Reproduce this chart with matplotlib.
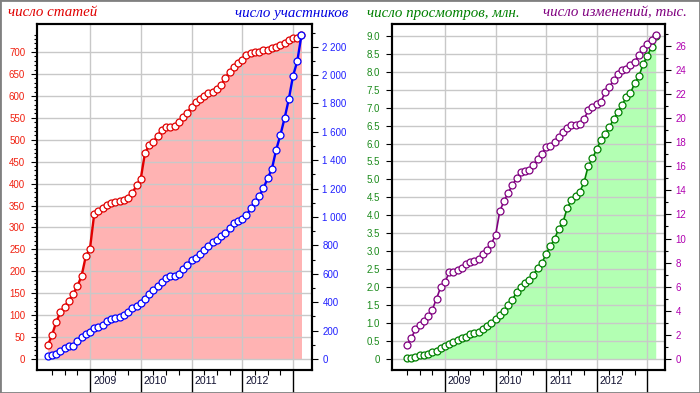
import numpy as np
import pandas as pd
import matplotlib
matplotlib.use("Agg")
import matplotlib.pyplot as plt
import matplotlib.transforms as mtransforms
from matplotlib.patches import Rectangle

# monthly data, left panel starts March 2008, right panel April 2008
articles = [31, 54, 84, 107, 119, 133, 148, 166, 189, 234,
            252, 331, 338, 345, 351, 355, 357, 360, 363, 368,
            378, 396, 411, 470, 487, 495, 509, 523, 530, 530,
            532, 540, 553, 561, 575, 585, 593, 600, 606, 610,
            616, 624, 641, 654, 667, 674, 683, 694, 698, 700,
            700, 704, 704, 709, 712, 717, 721, 728, 731, 733,
            738]
members = [22, 30, 37, 58, 80, 89, 94, 129, 155, 176,
           192, 216, 225, 240, 265, 280, 291, 298, 312, 331,
           357, 373, 394, 425, 456, 486, 514, 540, 571, 583,
           588, 598, 634, 664, 697, 711, 740, 766, 796, 822,
           836, 869, 890, 920, 956, 972, 984, 1012, 1062, 1104,
           1148, 1202, 1273, 1338, 1472, 1576, 1696, 1829, 1994, 2097,
           2282]
views = [0.02, 0.02, 0.05, 0.10, 0.11, 0.13, 0.19, 0.23, 0.29, 0.35,
         0.42, 0.47, 0.53, 0.57, 0.62, 0.68, 0.71, 0.75, 0.84, 0.91,
         1.00, 1.12, 1.23, 1.32, 1.50, 1.65, 1.86, 2.01, 2.12, 2.20,
         2.35, 2.53, 2.67, 2.93, 3.14, 3.34, 3.63, 3.81, 4.20, 4.42,
         4.54, 4.66, 4.92, 5.38, 5.59, 5.84, 6.10, 6.26, 6.45, 6.68,
         6.87, 7.07, 7.29, 7.40, 7.68, 7.87, 8.21, 8.44, 8.69, 9.00]
edits = [1.14, 1.72, 2.47, 2.85, 3.13, 3.54, 4.10, 5.01, 5.98, 6.37,
         7.20, 7.25, 7.36, 7.58, 7.89, 8.03, 8.11, 8.33, 8.72, 9.03,
         9.58, 10.27, 12.26, 13.10, 13.80, 14.43, 15.01, 15.53, 15.59, 15.70,
         16.06, 16.61, 17.03, 17.63, 17.69, 18.05, 18.46, 18.80, 19.13, 19.38,
         19.44, 19.50, 19.91, 20.63, 20.88, 21.18, 21.35, 22.15, 22.57, 23.12,
         23.62, 24.00, 24.06, 24.42, 24.67, 25.22, 25.72, 26.16, 26.50, 26.91]
years = [2009, 2010, 2011, 2012]

months_left = pd.date_range("2008-03-01", periods=len(articles), freq="MS")
months_right = pd.date_range("2008-04-01", periods=len(views), freq="MS")


def frac_year(dates):
    return np.array(dates.year + (dates.month - 1) / 12.0)


x_left = frac_year(months_left)
x_right = frac_year(months_right)

plt.rcParams['font.family'] = ['Liberation Sans', 'DejaVu Sans']

W, H = 700, 393
fig = plt.figure(figsize=(W / 100, H / 100), dpi=100)
fig.patch.set_facecolor("white")

grid_c = "#c8c8c8"


def setup_time_axis(ax, xlim):
    ax.set_xlim(*xlim)
    quarters = [y + q / 4 for y in range(2008, 2013) for q in (1, 2, 3)]
    ax.set_xticks(quarters)
    ax.set_xticklabels([])
    ax.tick_params(axis='x', direction='out', length=3.5, width=0.8)
    trans = mtransforms.blended_transform_factory(ax.transData, ax.transAxes)
    for yr in years + [2013]:
        ax.axvline(yr, color=grid_c, lw=1, zorder=1)
        ax.plot([yr, yr], [0, -0.065], transform=trans, color="black",
                lw=1, clip_on=False)
    for yr in years:
        ax.text(yr + 0.06, -0.032, str(yr), transform=trans, ha="left",
                va="center", fontsize=7.6, color="#101030")
    for s in ax.spines.values():
        s.set_linewidth(1.5)


# ---------- left panel ----------
ax1 = fig.add_axes([37 / W, 23 / H, 275 / W, 346 / H])
setup_time_axis(ax1, (2007.956, 2013.374))
ax1.set_ylim(-25, 764)
ax1.set_yticks(np.arange(0, 701, 50))
ax1.set_yticks(np.arange(0, 741, 10), minor=True)
for v in np.arange(0, 701, 50):
    ax1.axhline(v, color=grid_c, lw=1, zorder=1)
ax1.tick_params(axis='y', which='major', length=4.5, width=0.8,
                labelsize=7, labelcolor="#f02010", pad=4)
ax1.tick_params(axis='y', which='minor', length=2.2, width=0.8)
ax1.fill_between(x_left, articles, 0, color="#ffb3b3", lw=0, zorder=0.5)
ax1.plot(x_left, articles, color="#e00000", lw=1.7, marker="o", ms=5,
         mfc="white", mec="#e00000", mew=0.9, zorder=3)

ax2 = ax1.twinx()
ax2.set_ylim(-77.5, 2360)
ax2.set_yticks(np.arange(0, 2201, 200))
ax2.set_yticklabels([f"{v:,}".replace(",", " ") for v in range(0, 2201, 200)])
ax2.set_yticks(np.arange(0, 2301, 100), minor=True)
ax2.tick_params(axis='y', which='major', length=4.5, width=0.8,
                labelsize=7, labelcolor="#2020ff", pad=3)
ax2.tick_params(axis='y', which='minor', length=2.2, width=0.8)
ax2.plot(x_left, members, color="#0000ff", lw=1.7, marker="o", ms=5,
         mfc="white", mec="#0000ff", mew=0.9, zorder=3)
for s in ax2.spines.values():
    s.set_linewidth(1.5)

# ---------- right panel ----------
ax3 = fig.add_axes([391.7 / W, 23 / H, 273.3 / W, 346 / H])
setup_time_axis(ax3, (2007.947, 2013.35))
ax3.set_ylim(-0.31, 9.33)
gticks = np.arange(0, 9.01, 0.5)
ax3.set_yticks(gticks)
ax3.set_yticklabels(["0" if v == 0 else f"{v:.1f}" for v in gticks])
for v in gticks:
    ax3.axhline(v, color=grid_c, lw=1, zorder=1)
ax3.tick_params(axis='y', which='major', length=4.5, width=0.8,
                labelsize=7, labelcolor="#1a8a1a", pad=4)
ax3.fill_between(x_right, views, 0, color="#b3ffb3", lw=0, zorder=0.5)
ax3.plot(x_right, views, color="#008000", lw=1.2, marker="o", ms=5,
         mfc="white", mec="#008000", mew=0.9, zorder=3)

ax4 = ax3.twinx()
ax4.set_ylim(-0.91, 27.8)
ax4.set_yticks(np.arange(0, 27, 2))
ax4.set_yticks(np.arange(0, 28, 1), minor=True)
ax4.tick_params(axis='y', which='major', length=4.5, width=0.8,
                labelsize=7, labelcolor="#b000b0", pad=3)
ax4.tick_params(axis='y', which='minor', length=2.2, width=0.8)
ax4.plot(x_right, edits, color="#800080", lw=1.2, marker="o", ms=5,
         mfc="white", mec="#800080", mew=0.9, zorder=3)
for s in ax4.spines.values():
    s.set_linewidth(1.5)

# titles
tfont = dict(family="Liberation Serif", style="italic", fontsize=10.8, va="center")
fig.text(8 / W, 1 - 13 / H, "число статей", color="#e00000", ha="left", **tfont)
fig.text(348 / W, 1 - 13 / H, "число участников", color="#0000e0", ha="right", **tfont)
fig.text(367 / W, 1 - 13 / H, "число просмотров, млн.", color="#008000", ha="left", **tfont)
fig.text(687 / W, 1 - 13 / H, "число изменений, тыс.", color="#800080", ha="right", **tfont)

fig.patches.append(Rectangle((0, 0), 1, 1, transform=fig.transFigure, fill=False,
                             edgecolor="#808080", lw=2))

fig.savefig("out.png", dpi=100)
